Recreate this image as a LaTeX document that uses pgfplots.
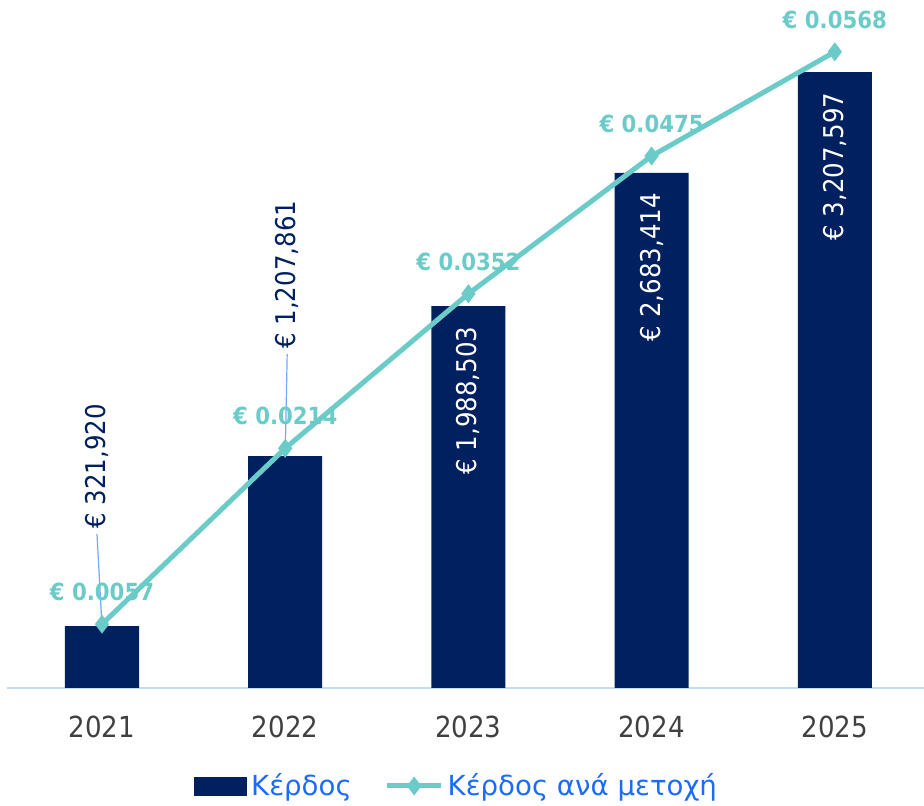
\documentclass[border=0pt]{standalone}
\usepackage{pgfplots}
\pgfplotsset{compat=1.18}
\usepackage{fontspec}
\setmainfont{DejaVu Sans}
\newfontfamily\cond[FakeStretch=0.9]{DejaVu Sans}
\usetikzlibrary{calc}
\definecolor{navy}{HTML}{002060}
\definecolor{tealline}{HTML}{6BCBC8}
\definecolor{leader}{HTML}{72AAFF}
\definecolor{baseln}{HTML}{C5DCF5}
\definecolor{yeargray}{HTML}{404040}
\definecolor{legblue}{HTML}{1A6CFF}
\pgfplotsset{linelegend/.style={legend image code/.code={%
  \draw[mark repeat=2,mark phase=2,##1] plot coordinates {(0pt,0pt) (13.5pt,0pt) (27pt,0pt)};}}}

\begin{document}
\begin{tikzpicture}
\useasboundingbox (0,0) rectangle (462pt,403pt);
% primary axis: profit bars
\begin{axis}[
  at={(5.2pt,59pt)}, anchor=south west,
  scale only axis, width=458pt, height=336pt,
  xmin=-0.5, xmax=4.5, ymin=0, ymax=3500000,
  axis line style={draw=none},
  xtick={0,1,2,3,4}, xticklabels={2021,2022,2023,2024,2025},
  ytick=\empty, major tick length=0pt,
  xticklabel style={anchor=center, yshift=-19.5pt, font=\cond\fontsize{14.5}{17}\selectfont, text=yeargray},
  clip=false,
]
\draw[baseln, line width=1pt] (axis cs:-0.52,0) -- (axis cs:4.5,0);
\addplot[ybar, bar width=37pt, fill=navy, draw=none] coordinates {
  (0,321920) (1,1207861) (2,1988503) (3,2683414) (4,3207597)};
% labels
\tikzset{blab/.style={rotate=90, inner sep=0pt, font=\cond\fontsize{13.6}{16}\selectfont}}
\node[blab, anchor=east, text=white] at ($(axis cs:2,1988503)+(0pt,-10pt)$) {€ 1,988,503};
\node[blab, anchor=east, text=white] at ($(axis cs:3,2683414)+(0pt,-10pt)$) {€ 2,683,414};
\node[blab, anchor=east, text=white] at ($(axis cs:4,3207597)+(0pt,-10pt)$) {€ 3,207,597};
\node[blab, anchor=west, text=navy] at ($(axis cs:0,321920)+(-2.5pt,48.5pt)$) {€ 321,920};
\node[blab, anchor=west, text=navy] at ($(axis cs:1,1207861)+(1pt,53.5pt)$) {€ 1,207,861};
\draw[leader, line width=0.6pt] (axis cs:0,321920) -- ++(-2.5pt,46pt);
\draw[leader, line width=0.6pt] (axis cs:1,1207861) -- ++(1pt,51pt);
\end{axis}
% secondary axis: earnings per share
\begin{axis}[
  at={(5.2pt,59pt)}, anchor=south west,
  scale only axis, width=458pt, height=336pt,
  xmin=-0.5, xmax=4.5, ymin=0, ymax=0.06,
  hide axis, clip=false,
  legend style={draw=none, fill=none, at={(0.2004,-0.1458)}, anchor=west,
    inner sep=0pt, legend columns=2, font=\fontsize{13.8}{16}\selectfont, text=legblue,
    /tikz/every even column/.append style={column sep=14.5pt}},
  legend cell align=left,
]
\addlegendimage{legend image code/.code={\fill[navy] (0pt,-4.5pt) rectangle (26pt,4.5pt);}}
\addlegendentry{Κέρδος}
\addplot[tealline, line width=2.5pt, mark=diamond*, mark size=2.7pt, linelegend,
  nodes near coords={€ \pgfmathprintnumber[fixed,fixed zerofill,precision=4,assume math mode=true]{\pgfplotspointmeta}},
  every node near coord/.append style={anchor=center, yshift=16pt, text=tealline, font=\cond\bfseries\fontsize{11.8}{14}\selectfont},
] coordinates {(0,0.0057) (1,0.0214) (2,0.0352) (3,0.0475) (4,0.0568)};
\addlegendentry{Κέρδος ανά μετοχή}
\end{axis}
\end{tikzpicture}
\end{document}
